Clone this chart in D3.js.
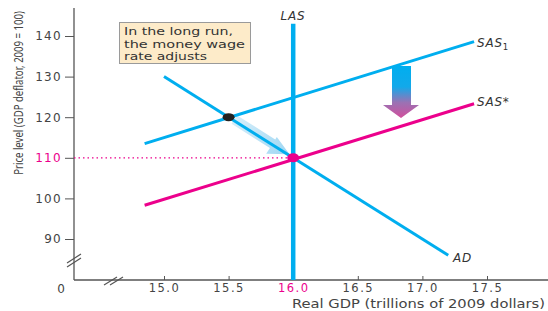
<!DOCTYPE html>
<html>
<head>
<meta charset="utf-8">
<script src="https://cdn.jsdelivr.net/npm/d3@7"></script>
<style>
  body { margin: 0; background: #fff; }
  svg { font-family: 'DejaVu Sans', sans-serif; }
</style>
</head>
<body>
<div id="chart"></div>
<script>
// tick values
const yTicks = [90, 100, 110, 120, 130, 140];
const xTicks = [15.0, 15.5, 16.0, 16.5, 17.0, 17.5];

// curves (real GDP, price level)
const sas1 = [[14.85, 113.5], [17.4, 138.6]];
const sasStar = [[14.85, 98.3], [17.4, 123.3]];
const ad = [[15.0, 130], [17.2, 86]];
const las = [[16.0, 80], [16.0, 143]];
const startPoint = [15.5, 120];
const endPoint = [16.0, 110];

const W = 548, H = 311;
const cyan = '#00aeef', pink = '#ec008c';

const svg = d3.select('#chart').append('svg')
  .attr('width', W)
  .attr('height', H);

const x = d3.scaleLinear().domain([15, 17.5]).range([164, 487]);
const y = d3.scaleLinear().domain([90, 140]).range([239, 36]);
const axisX = 74, axisY = 280;

const defs = svg.append('defs');
const grad = defs.append('linearGradient')
  .attr('id', 'downGrad')
  .attr('x1', 0).attr('y1', 0).attr('x2', 0).attr('y2', 1);
grad.append('stop').attr('offset', '0%').attr('stop-color', '#00aeef');
grad.append('stop').attr('offset', '40%').attr('stop-color', '#12a9ea');
grad.append('stop').attr('offset', '70%').attr('stop-color', '#9a72b4');
grad.append('stop').attr('offset', '100%').attr('stop-color', '#d24f9c');

const paleGrad = defs.append('linearGradient')
  .attr('id', 'paleGrad')
  .attr('x1', 0).attr('y1', 0).attr('x2', 1).attr('y2', 0);
paleGrad.append('stop').attr('offset', '0%').attr('stop-color', '#d6eefa');
paleGrad.append('stop').attr('offset', '100%').attr('stop-color', '#9fd7f3');

// axes
const yAxis = d3.axisLeft(y).tickValues(yTicks).tickSize(9).tickPadding(3);
const gy = svg.append('g').attr('transform', `translate(${axisX},0)`).call(yAxis);
gy.select('.domain').remove();
gy.selectAll('line').attr('stroke', '#555');
gy.selectAll('text')
  .attr('font-family', 'DejaVu Sans')
  .attr('font-size', 12)
  .attr('letter-spacing', 1.3)
  .attr('fill', d => d === 110 ? pink : '#444');

const xAxis = d3.axisTop(x).tickValues(xTicks).tickSize(4).tickFormat(d3.format('.1f'));
const gx = svg.append('g').attr('transform', `translate(0,${axisY})`).call(xAxis);
gx.select('.domain').remove();
gx.selectAll('line').attr('stroke', '#555');
gx.selectAll('text')
  .attr('y', 12)
  .attr('dy', 0)
  .attr('font-family', 'DejaVu Sans')
  .attr('font-size', 11.5)
  .attr('letter-spacing', 1.5)
  .attr('fill', d => d === 16 ? pink : '#444');

// axis lines
svg.append('line')
  .attr('x1', axisX).attr('x2', axisX).attr('y1', 8).attr('y2', axisY)
  .attr('stroke', '#555').attr('stroke-width', 1.3);
svg.append('line')
  .attr('x1', axisX).attr('x2', W).attr('y1', axisY).attr('y2', axisY)
  .attr('stroke', '#555').attr('stroke-width', 1.3);

// axis breaks
const breaks = svg.append('g').attr('stroke', '#555').attr('stroke-width', 1.2);
breaks.append('line').attr('x1', 67).attr('y1', 267).attr('x2', 81).attr('y2', 258);
breaks.append('line').attr('x1', 67).attr('y1', 263).attr('x2', 81).attr('y2', 254);
breaks.append('line').attr('x1', 104).attr('y1', 285).attr('x2', 117).attr('y2', 277);
breaks.append('line').attr('x1', 110).attr('y1', 285).attr('x2', 123).attr('y2', 277);

svg.append('text')
  .attr('x', 61).attr('y', 293)
  .attr('text-anchor', 'middle')
  .attr('font-size', 12)
  .attr('fill', '#444')
  .text('0');

// y title: fit natural length, then stretch glyph height
const yTitle = svg.append('text')
  .attr('text-anchor', 'middle')
  .attr('font-family', 'Noto Sans')
  .attr('font-size', 10)
  .attr('fill', '#444')
  .text('Price level (GDP deflator, 2009 = 100)');
const natural = yTitle.node().getComputedTextLength();
const fs = 10 * 164 / natural;
yTitle.attr('font-size', fs)
  .attr('transform', `translate(23,93) rotate(-90) scale(1,${12.5 / fs})`);

svg.append('text')
  .attr('x', 545).attr('y', 308)
  .attr('text-anchor', 'end')
  .attr('font-size', 11.5)
  .attr('fill', '#444')
  .attr('textLength', 253)
  .attr('lengthAdjust', 'spacingAndGlyphs')
  .text('Real GDP (trillions of 2009 dollars)');

const line = d3.line().x(d => x(d[0])).y(d => y(d[1]));

// dotted guide at 110
svg.append('line')
  .attr('x1', axisX).attr('x2', x(endPoint[0]))
  .attr('y1', y(endPoint[1])).attr('y2', y(endPoint[1]))
  .attr('stroke', pink).attr('stroke-width', 1.3)
  .attr('stroke-dasharray', '1.5,3');

// pale movement arrow along AD
const ax0 = x(startPoint[0]), ay0 = y(startPoint[1]);
const ax1 = x(endPoint[0]), ay1 = y(endPoint[1]);
const ang = Math.atan2(ay1 - ay0, ax1 - ax0);
const len = Math.hypot(ax1 - ax0, ay1 - ay0);
const hb = len - 25, tip = len - 5;
svg.append('g')
  .attr('transform', `translate(${ax0},${ay0}) rotate(${ang * 180 / Math.PI})`)
  .append('path')
  .attr('d', `M6,-6 L${hb},-6 L${hb},-9 L${tip},-1 L${hb},11 L${hb},4 L6,4 Z`)
  .attr('fill', 'url(#paleGrad)');

// curves
svg.append('path').datum(sasStar).attr('d', line)
  .attr('stroke', pink).attr('stroke-width', 3).attr('fill', 'none');
svg.append('path').datum(sas1).attr('d', line)
  .attr('stroke', cyan).attr('stroke-width', 3).attr('fill', 'none');
svg.append('path').datum(ad).attr('d', line)
  .attr('stroke', cyan).attr('stroke-width', 3).attr('fill', 'none');
svg.append('line')
  .attr('x1', x(las[0][0])).attr('x2', x(las[1][0]))
  .attr('y1', axisY).attr('y2', y(las[1][1]))
  .attr('stroke', cyan).attr('stroke-width', 4.5);

// points
svg.append('ellipse')
  .attr('cx', x(startPoint[0])).attr('cy', y(startPoint[1])).attr('rx', 6).attr('ry', 4)
  .attr('fill', '#222');
svg.append('ellipse')
  .attr('cx', x(endPoint[0])).attr('cy', y(endPoint[1])).attr('rx', 6).attr('ry', 4.5)
  .attr('fill', pink);

// big down arrow
svg.append('path')
  .attr('d', 'M392,66 L411,66 L411,105 L419,105 L401,118 L383,105 L392,105 Z')
  .attr('fill', 'url(#downGrad)');

// curve labels
const labelStyle = sel => sel
  .attr('font-size', 12)
  .attr('font-style', 'italic')
  .attr('fill', '#333')
  .attr('letter-spacing', 0.8);

const sasLabel = svg.append('text').attr('x', 477).attr('y', 47).call(labelStyle);
sasLabel.append('tspan').text('SAS');
sasLabel.append('tspan').attr('font-size', 8.5).attr('dy', 3).attr('font-style', 'normal').text('1');

svg.append('text').attr('x', 477).attr('y', 106).call(labelStyle).text('SAS*');
svg.append('text').attr('x', 453).attr('y', 262).call(labelStyle).text('AD');
svg.append('text').attr('x', 293).attr('y', 20).attr('text-anchor', 'middle')
  .call(labelStyle).text('LAS');

// note box
svg.append('rect')
  .attr('x', 119.5).attr('y', 22.5).attr('width', 131).attr('height', 41)
  .attr('fill', '#fdebc9').attr('stroke', '#9a9a9a').attr('stroke-width', 1);
const noteLines = ['In the long run,', 'the money wage', 'rate adjusts'];
const noteWidths = [109, 121, 83];
const note = svg.append('text')
  .attr('font-size', 10.5)
  .attr('fill', '#333');
noteLines.forEach((t, i) => {
  note.append('tspan')
    .attr('x', 124).attr('y', 35 + i * 12.5)
    .attr('textLength', noteWidths[i])
    .attr('lengthAdjust', 'spacingAndGlyphs')
    .text(t);
});
</script>
</body>
</html>
